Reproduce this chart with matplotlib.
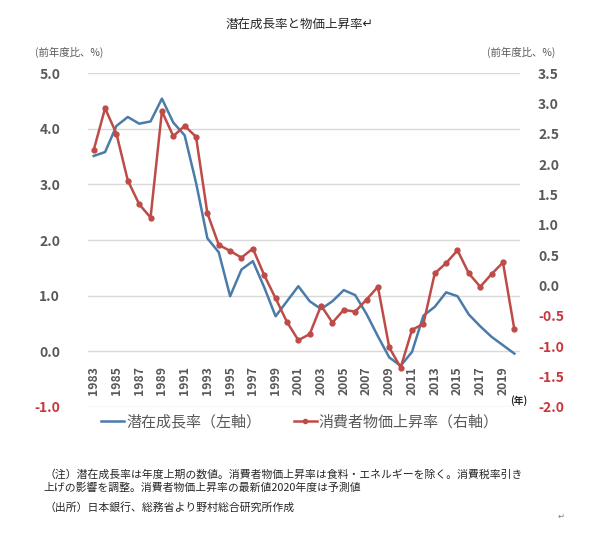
import matplotlib
matplotlib.use("Agg")
import matplotlib.pyplot as plt
from matplotlib.lines import Line2D

plt.rcParams['font.family'] = ['Noto Sans CJK JP', 'DejaVu Sans']

# 年度
years = list(range(1983, 2021))
# 潜在成長率（左軸）
potential = [3.51, 3.58, 4.05, 4.21, 4.09, 4.13, 4.54, 4.11, 3.88, 3.03,
             2.03, 1.78, 0.99, 1.47, 1.62, 1.15, 0.63, 0.90, 1.17, 0.90,
             0.76, 0.90, 1.10, 1.01, 0.67, 0.27, -0.11, -0.26, -0.01, 0.64,
             0.80, 1.06, 0.99, 0.66, 0.45, 0.26, 0.11, -0.04]
# 消費者物価上昇率（右軸）
cpi = [2.23, 2.92, 2.50, 1.73, 1.34, 1.12, 2.87, 2.46, 2.63, 2.45,
       1.19, 0.67, 0.57, 0.46, 0.61, 0.17, -0.21, -0.60, -0.90, -0.80,
       -0.33, -0.61, -0.40, -0.43, -0.23, -0.02, -1.02, -1.35, -0.73, -0.63,
       0.20, 0.37, 0.58, 0.20, -0.02, 0.19, 0.38, -0.72]

left_ticks = [-1.0, 0.0, 1.0, 2.0, 3.0, 4.0, 5.0]
right_ticks = [-2.0, -1.5, -1.0, -0.5, 0.0, 0.5, 1.0, 1.5, 2.0, 2.5, 3.0, 3.5]
year_labels = years[::2]

blue = '#4A7BAA'
red = '#BE4B48'
gray = '#595959'
neg = '#C8373D'

fig = plt.figure(figsize=(6, 5.33), dpi=100)
ax = fig.add_axes([0.1467, 0.2364, 0.72, 0.6266])
ax2 = ax.twinx()

ax.plot(years, potential, color=blue, lw=1.8, zorder=3)
ax2.plot(years, cpi, color=red, lw=1.8, marker='o', ms=3.5, zorder=3)

ax.set_xlim(1982.5, 2020.5)
ax.set_ylim(-1.0, 5.0)
ax2.set_ylim(-2.0, 3.5)
ax.set_yticks(left_ticks)
ax.set_yticklabels(['%.1f' % v for v in left_ticks])
ax2.set_yticks(right_ticks)
ax2.set_yticklabels(['%.1f' % v for v in right_ticks])
ax.set_xticks([])

ax.yaxis.grid(True, color='#D9D9D9', lw=1)
ax.set_axisbelow(True)
for a in (ax, ax2):
    for s in a.spines.values():
        s.set_visible(False)
ax.tick_params(axis='y', length=0, pad=20, labelsize=10, labelcolor=gray)
ax2.tick_params(axis='y', length=0, pad=13, labelsize=10, labelcolor=gray)
for lab, v in zip(ax.get_yticklabels(), left_ticks):
    lab.set_fontweight('bold')
    if v < 0:
        lab.set_color(neg)
for lab, v in zip(ax2.get_yticklabels(), right_ticks):
    lab.set_fontweight('bold')
    if v < 0:
        lab.set_color(neg)

# 年ラベル（0の線の下）
for y in year_labels:
    ax.text(y, -0.27, str(y), rotation=90, ha='center', va='top',
            fontsize=8.8, color=gray, fontweight='bold')
ax.text(2020.4, -0.88, '(年)', ha='center', va='center', fontsize=7,
        color='#262626', fontweight='bold')

fig.text(0.5, 1 - 25 / 533, '潜在成長率と物価上昇率↵', ha='center', va='center',
         fontsize=9, color='#262626')
fig.text(0.058, 1 - 52 / 533, '(前年度比、%)', ha='left', va='center',
         fontsize=7.5, color=gray)
fig.text(0.925, 1 - 52 / 533, '(前年度比、%)', ha='right', va='center',
         fontsize=7.5, color=gray)

handles = [Line2D([], [], color=blue, lw=1.8),
           Line2D([], [], color=red, lw=1.8, marker='o', ms=3)]
fig.legend(handles, ['潜在成長率（左軸）', '消費者物価上昇率（右軸）'],
           loc='center', bbox_to_anchor=(0.5, 1 - 422 / 533), ncol=2,
           frameon=False, fontsize=10.8, handlelength=1.5, handletextpad=0.15,
           columnspacing=2.2, labelcolor=gray)

notes = ['（注）潜在成長率は年度上期の数値。消費者物価上昇率は食料・エネルギーを除く。消費税率引き',
         '上げの影響を調整。消費者物価上昇率の最新値2020年度は予測値',
         '（出所）日本銀行、総務省より野村総合研究所作成']
fig.text(0.075, 1 - 474 / 533, notes[0], ha='left', va='center', fontsize=7.8, color='#262626')
fig.text(0.072, 1 - 488 / 533, notes[1], ha='left', va='center', fontsize=7.8, color='#262626')
fig.text(0.075, 1 - 507 / 533, notes[2], ha='left', va='center', fontsize=7.8, color='#262626')
fig.text(0.935, 1 - 516 / 533, '↵', ha='center', va='center', fontsize=6,
         color='#808080', family=['DejaVu Sans'])

fig.savefig('out.png', dpi=100, facecolor='white')
